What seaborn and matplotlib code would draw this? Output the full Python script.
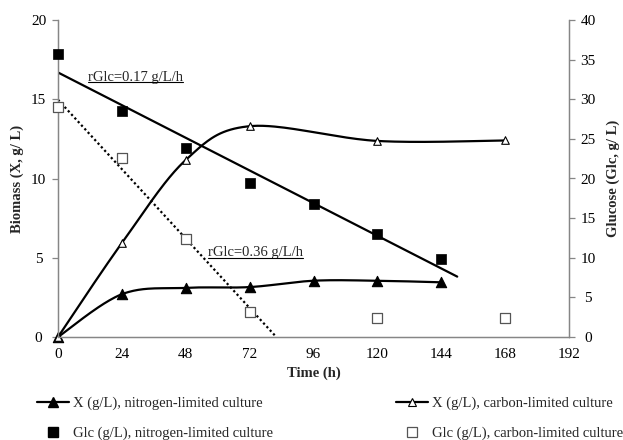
import numpy as np
import pandas as pd
import matplotlib
matplotlib.use("Agg")
import matplotlib.pyplot as plt
import seaborn as sns
from matplotlib.lines import Line2D

# ---------------- data ----------------
time_n = [0, 24, 48, 72, 96, 120, 144]
x_nitrogen = [0.0, 2.7, 3.1, 3.15, 3.55, 3.55, 3.45]
glc_nitrogen = [35.7, 28.5, 23.8, 19.4, 16.8, 13.0, 9.9]

time_c = [0, 24, 48, 72, 120, 168]
x_carbon = [0.0, 5.93, 11.17, 13.3, 12.37, 12.4]
glc_carbon = [29.0, 22.6, 12.4, 3.2, 2.4, 2.4]

x_ticks = [0, 24, 48, 72, 96, 120, 144, 168, 192]
rate_n_label = "rGlc=0.17 g/L/h"
rate_c_label = "rGlc=0.36 g/L/h"

# ---------------- style ----------------
sns.set_style("white")
plt.rcParams['font.family'] = ['Liberation Serif', 'DejaVu Serif']
plt.rcParams['font.size'] = 10
GREY = "#868686"

fig = plt.figure(figsize=(6.23, 4.4), dpi=100)
ax = fig.add_axes([58/623, 1-337/440, (569-58)/623, (337-20)/440])
ax2 = ax.twinx()

XMAX, YL, YR = 192, 20, 40
W, H = 511, 317


def smooth(xs, ys, ymax, n=40):
    """Excel-like smoothed line (Catmull-Rom Bezier in screen units)."""
    P = np.column_stack([np.asarray(xs, float) / XMAX * W,
                         np.asarray(ys, float) / ymax * H])
    Pe = np.vstack([P[0], P, P[-1]])
    out = []
    t = np.linspace(0, 1, n)[:, None]
    for i in range(len(P) - 1):
        p0, p1, p2, p3 = Pe[i], Pe[i + 1], Pe[i + 2], Pe[i + 3]
        c1 = p1 + (p2 - p0) / 6
        c2 = p2 - (p3 - p1) / 6
        seg = ((1 - t) ** 3) * p1 + 3 * ((1 - t) ** 2) * t * c1 + 3 * (1 - t) * t ** 2 * c2 + t ** 3 * p2
        out.append(seg if i == 0 else seg[1:])
    out = np.vstack(out)
    return out[:, 0] / W * XMAX, out[:, 1] / H * ymax


# smoothed biomass curves
sx, sy = smooth(time_n, x_nitrogen, YL)
sns.lineplot(x=sx, y=sy, ax=ax, color="black", lw=1.6, sort=False, estimator=None)
cx, cy = smooth(time_c, x_carbon, YL)
sns.lineplot(x=cx, y=cy, ax=ax, color="black", lw=1.6, sort=False, estimator=None)

# biomass markers
sns.scatterplot(x=time_n, y=x_nitrogen, ax=ax, marker="^", s=55, color="black",
                edgecolor="black", linewidth=0.8, zorder=5, clip_on=False)
sns.scatterplot(x=time_c, y=x_carbon, ax=ax, marker="^", s=30, facecolor="white",
                edgecolor="black", linewidth=0.8, zorder=5, clip_on=False)

# glucose trendlines (linear fits)
kn = np.polyfit(time_n, glc_nitrogen, 1)
tn = np.array([0, 150])
sns.lineplot(x=tn, y=np.polyval(kn, tn), ax=ax2, color="black", lw=1.6)
kc = np.polyfit(time_c[:4], glc_carbon[:4], 1)
tc = np.array([0, -kc[1] / kc[0]])
ax2.plot(tc, np.polyval(kc, tc), color="black", lw=1.6, ls=(0, (1, 1.2)))

# glucose markers
sns.scatterplot(x=time_n, y=glc_nitrogen, ax=ax2, marker="s", s=62, color="black",
                edgecolor="black", linewidth=0.5, zorder=5, clip_on=False)
sns.scatterplot(x=time_c, y=glc_carbon, ax=ax2, marker="s", s=62, facecolor="white",
                edgecolor="#555555", linewidth=0.9, zorder=5, clip_on=False)

# axes formatting
ax.set_xlim(0, XMAX)
ax.set_ylim(0, YL)
ax2.set_ylim(0, YR)
ax.set_xticks(x_ticks)
ax.set_yticks([0, 5, 10, 15, 20])
ax2.set_yticks(list(range(0, 41, 5)))
for a in (ax, ax2):
    a.spines["top"].set_visible(False)
    for side in ("left", "right", "bottom"):
        a.spines[side].set_color(GREY)
        a.spines[side].set_linewidth(0.9)
    a.tick_params(direction="out", length=4, width=0.9, color=GREY, labelsize=11,
                  labelcolor="black")
ax.tick_params(axis="x", pad=4)
ax.tick_params(axis="y", pad=10)
ax2.tick_params(axis="y", pad=9.7)
plt.setp(ax.get_yticklabels(), ha="center")
plt.setp(ax2.get_yticklabels(), ha="center")
ax.grid(False)
ax2.grid(False)

ax.set_xlabel("Time (h)", fontweight="bold", fontsize=10.5, labelpad=4)
ax.set_ylabel("Biomass (X, g/ L)", fontweight="bold", fontsize=10.5, labelpad=5)
ax2.set_ylabel("Glucose (Glc, g/ L)", fontweight="bold", fontsize=10.5, labelpad=8)

t1 = ax.text(11.3, 16.4, rate_n_label, fontsize=10.5, ha="left", va="center")
t2 = ax.text(56.4, 5.3, rate_c_label, fontsize=10.5, ha="left", va="center")

# legends
h_xn = Line2D([], [], color="black", lw=1.6, marker="^", ms=7.5, mfc="black", mec="black")
h_gn = Line2D([], [], color="none", marker="s", ms=7.5, mfc="black", mec="black")
h_xc = Line2D([], [], color="black", lw=1.6, marker="^", ms=5.5, mfc="white", mec="black", mew=0.8)
h_gc = Line2D([], [], color="none", marker="s", ms=7.5, mfc="white", mec="#555555", mew=0.9)

kw = dict(frameon=False, loc="upper left", borderpad=0, borderaxespad=0,
          handlelength=2.2, handletextpad=0.25, labelspacing=1.1, fontsize=10.5)
leg1 = fig.legend([h_xn, h_gn], ["X (g/L), nitrogen-limited culture",
                                 "Glc (g/L), nitrogen-limited culture"],
                  bbox_to_anchor=(37/623, 1-397/440), **kw)
leg2 = fig.legend([h_xc, h_gc], ["X (g/L), carbon-limited culture",
                                 "Glc (g/L), carbon-limited culture"],
                  bbox_to_anchor=(396/623, 1-397/440), **kw)

# underline annotations
fig.canvas.draw()
for t in (t1, t2):
    bb = t.get_window_extent()
    fw, fh = fig.bbox.width, fig.bbox.height
    y = (bb.y0 + 1.5) / fh
    fig.add_artist(Line2D([bb.x0 / fw, bb.x1 / fw], [y, y], color="black", lw=0.8,
                          transform=fig.transFigure))

fig.savefig("out.png", dpi=100)
